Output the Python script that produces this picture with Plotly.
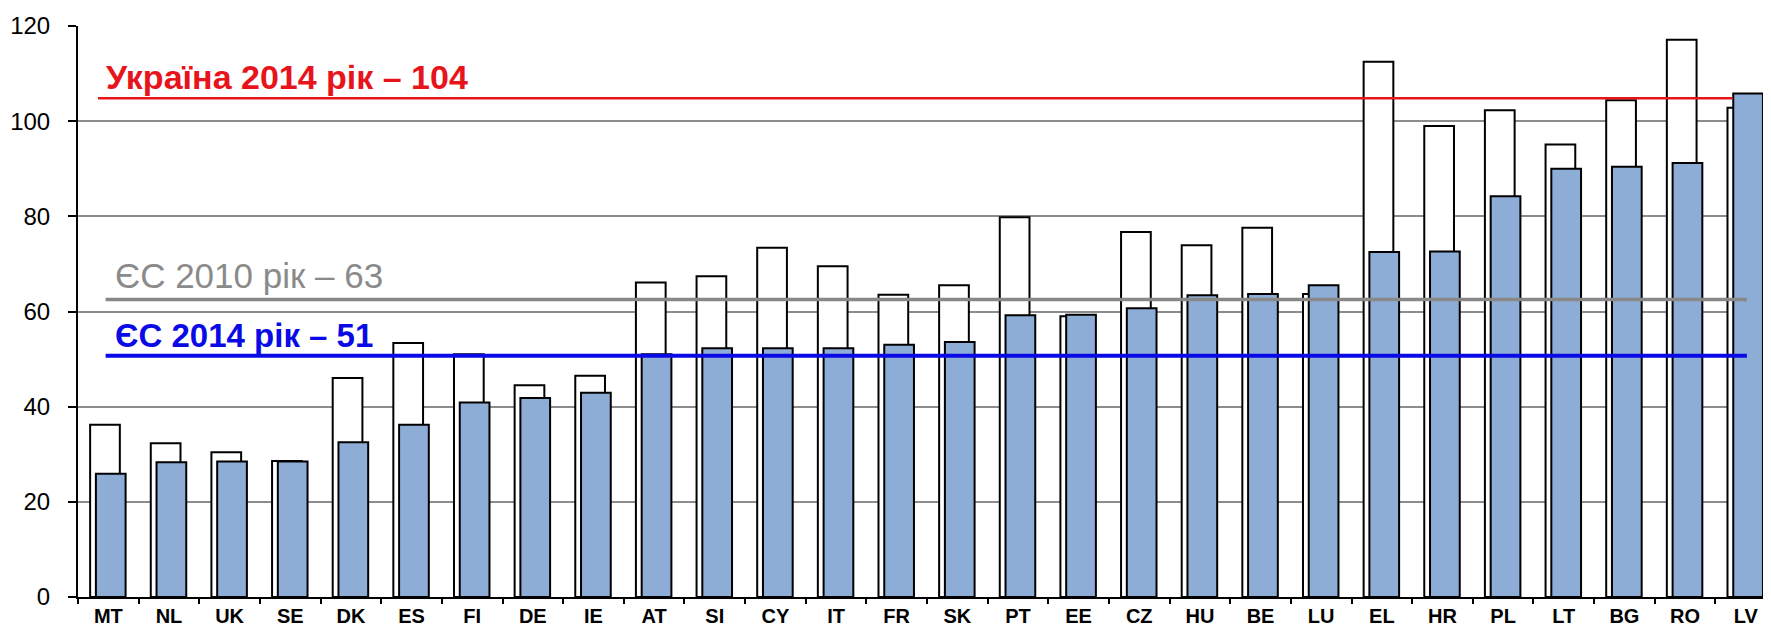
import plotly.graph_objects as go

categories = ["MT", "NL", "UK", "SE", "DK", "ES", "FI", "DE", "IE", "AT", "SI", "CY", "IT", "FR",
              "SK", "PT", "EE", "CZ", "HU", "BE", "LU", "EL", "HR", "PL", "LT", "BG", "RO", "LV"]
values_2010 = [36.2, 32.3, 30.4, 28.6, 46.0, 53.4, 51.0, 44.5, 46.5, 66.1, 67.4, 73.4, 69.5, 63.5,
               65.5, 79.8, 59.0, 76.7, 73.9, 77.6, 63.7, 112.5, 99.0, 102.3, 95.1, 104.4, 117.1, 102.8]
values_2014 = [25.9, 28.3, 28.5, 28.5, 32.5, 36.2, 40.9, 41.8, 42.9, 51.0, 52.3, 52.3, 52.3, 53.0,
               53.6, 59.2, 59.3, 60.7, 63.4, 63.7, 65.5, 72.5, 72.6, 84.2, 90.0, 90.4, 91.2, 105.8]
ref_levels = {"ukraine_2014": 104.8, "eu_2010": 62.5, "eu_2014": 50.7}
ref_labels = {"ukraine_2014": "Україна 2014 рік – 104", "eu_2010": "ЄС 2010 рік – 63",
              "eu_2014": "ЄС 2014 рік – 51"}
y_ticks = [0, 20, 40, 60, 80, 100, 120]

FONT = "Liberation Sans, Arial, sans-serif"

fig = go.Figure()
fig.add_trace(go.Bar(x=categories, y=values_2010, name="2010",
                     marker=dict(color="white", line=dict(color="black", width=2)),
                     width=0.49, offset=-0.30))
fig.add_trace(go.Bar(x=categories, y=values_2014, name="2014",
                     marker=dict(color="#8eadd6", line=dict(color="black", width=2)),
                     width=0.49, offset=-0.205))

# reference lines
fig.add_shape(type="line", xref="x", yref="y", x0=-0.17, x1=26.78,
              y0=ref_levels["ukraine_2014"], y1=ref_levels["ukraine_2014"],
              line=dict(color="#e8141c", width=2.5), layer="above")
fig.add_shape(type="line", xref="x", yref="y", x0=-0.045, x1=27.02,
              y0=ref_levels["eu_2010"], y1=ref_levels["eu_2010"],
              line=dict(color="#888888", width=3.5), layer="above")
fig.add_shape(type="line", xref="x", yref="y", x0=-0.045, x1=27.02,
              y0=ref_levels["eu_2014"], y1=ref_levels["eu_2014"],
              line=dict(color="#0a0ae6", width=4), layer="above")
# right border
fig.add_shape(type="line", xref="paper", yref="y", x0=1, x1=1, y0=0, y1=120,
              line=dict(color="#999999", width=1.5), layer="below")

fig.add_annotation(x=0.0151, xref="paper", y=109.3, yref="y", text="<b>" + ref_labels["ukraine_2014"] + "</b>",
                   showarrow=False, xanchor="left", yanchor="middle",
                   font=dict(family=FONT, size=34, color="#e8141c"))
fig.add_annotation(x=0.0206, xref="paper", y=67.5, yref="y", text=ref_labels["eu_2010"],
                   showarrow=False, xanchor="left", yanchor="middle",
                   font=dict(family=FONT, size=35, color="#8a8a8a"))
fig.add_annotation(x=0.0206, xref="paper", y=55.0, yref="y", text="<b>" + ref_labels["eu_2014"] + "</b>",
                   showarrow=False, xanchor="left", yanchor="middle",
                   font=dict(family=FONT, size=33, color="#0a0ae6"))

fig.update_layout(
    width=1771, height=626,
    margin=dict(l=70, r=3, t=18, b=37),
    paper_bgcolor="white", plot_bgcolor="white",
    barmode="overlay", showlegend=False,
    font=dict(family=FONT, color="black"),
    xaxis=dict(tickmode="array", tickvals=categories,
               ticktext=["<b>" + c + "</b>" for c in categories],
               tickfont=dict(size=20, family=FONT, color="black"),
               tickson="boundaries", ticks="outside", ticklen=5, tickcolor="black", tickwidth=1.5,
               showline=True, linecolor="black", linewidth=2,
               showgrid=False, range=[-0.5, 27.5]),
    yaxis=dict(range=[0, 120], tickvals=y_ticks, tickfont=dict(size=24, family=FONT, color="black"),
               ticks="outside", ticklen=8, tickcolor="black", tickwidth=1.5,
               ticklabelstandoff=13,
               showline=True, linecolor="black", linewidth=2,
               showgrid=True, gridcolor="#8c8c8c", gridwidth=1.5, zeroline=False),
)

fig.write_html("out.html")
